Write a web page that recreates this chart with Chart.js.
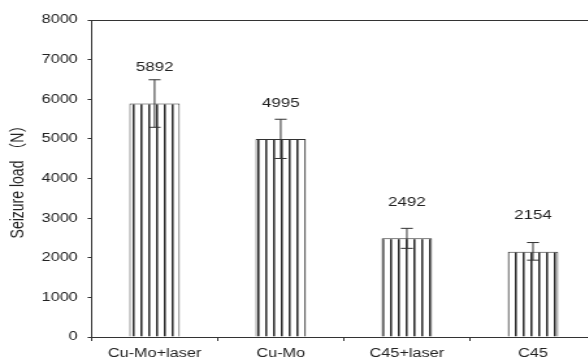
<!DOCTYPE html>
<html>
<head>
<meta charset="utf-8">
<script src="https://cdn.jsdelivr.net/npm/chart.js@4/dist/chart.umd.min.js"></script>
<style>
  html, body { margin: 0; padding: 0; background: #fff; }
  body { width: 588px; height: 362px; overflow: hidden; }
  #wrap { width: 460px; height: 362px; transform: scaleX(1.3); transform-origin: 0 0; }
  canvas { display: block; }
</style>
</head>
<body>
<div id="wrap"><canvas id="c" width="460" height="362"></canvas></div>
<script>
// Seizure load of the four samples, with error bar extents
const categories = ['Cu-Mo+laser', 'Cu-Mo', 'C45+laser', 'C45'];
const seizureLoad = [5892, 4995, 2492, 2154];
const errorUp = [600, 500, 250, 230];
const errorDown = [600, 490, 255, 215];
const yTicks = [0, 1000, 2000, 3000, 4000, 5000, 6000, 7000, 8000];
const yTitle = 'Seizure load （N）';

const FONT = "'Liberation Sans', Arial, 'Noto Sans CJK SC', sans-serif";
const INK = '#333333';
const TEXT = '#222222';

// vertical hatch fill for the bars
function stripePattern() {
  const p = document.createElement('canvas');
  p.width = 6; p.height = 4;
  const g = p.getContext('2d');
  g.fillStyle = '#ffffff';
  g.fillRect(0, 0, 6, 4);
  g.fillStyle = '#2e2e2e';
  g.fillRect(0, 0, 1, 4);
  g.fillStyle = '#8a8a8a';
  g.fillRect(1, 0, 1, 4);
  return g.createPattern(p, 'repeat');
}

const errorBars = {
  id: 'errorBars',
  afterDatasetsDraw(chart) {
    const meta = chart.getDatasetMeta(0);
    const ys = chart.scales.y;
    const ctx = chart.ctx;
    ctx.save();
    ctx.strokeStyle = INK;
    ctx.lineWidth = 1;
    meta.data.forEach((bar, i) => {
      const v = seizureLoad[i];
      const top = ys.getPixelForValue(v + errorUp[i]);
      const bot = ys.getPixelForValue(v - errorDown[i]);
      const x = bar.x, hw = 4.6;
      ctx.beginPath();
      ctx.moveTo(x, top); ctx.lineTo(x, bot);
      ctx.moveTo(x - hw, top); ctx.lineTo(x + hw, top);
      ctx.moveTo(x - hw, bot); ctx.lineTo(x + hw, bot);
      ctx.stroke();
    });
    ctx.restore();
  }
};

const valueLabels = {
  id: 'valueLabels',
  afterDatasetsDraw(chart) {
    const meta = chart.getDatasetMeta(0);
    const ctx = chart.ctx;
    ctx.save();
    ctx.font = '13px ' + FONT;
    ctx.fillStyle = TEXT;
    ctx.textAlign = 'center';
    ctx.textBaseline = 'middle';
    meta.data.forEach((bar, i) => {
      ctx.fillText(String(seizureLoad[i]), bar.x, bar.y - 36);
    });
    ctx.restore();
  }
};

const topBorder = {
  id: 'topBorder',
  afterDraw(chart) {
    const a = chart.chartArea;
    const ctx = chart.ctx;
    ctx.save();
    ctx.strokeStyle = INK;
    ctx.lineWidth = 1;
    ctx.beginPath();
    ctx.moveTo(a.left, a.top + 0.5);
    ctx.lineTo(a.right + 10, a.top + 0.5);
    ctx.stroke();
    ctx.restore();
  }
};

new Chart(document.getElementById('c'), {
  type: 'bar',
  data: {
    labels: categories,
    datasets: [{
      data: seizureLoad,
      backgroundColor: stripePattern(),
      borderColor: INK,
      borderWidth: 1,
      barPercentage: 0.4,
      categoryPercentage: 1.0
    }]
  },
  options: {
    responsive: false,
    devicePixelRatio: 1,
    animation: false,
    layout: { padding: { top: 20, right: 1.5, left: 0, bottom: 0 } },
    plugins: { legend: { display: false }, tooltip: { enabled: false } },
    scales: {
      x: {
        afterFit(s) { s.height = 25; },
        grid: { offset: true, drawOnChartArea: false, tickLength: 4, color: INK },
        border: { display: true, color: INK, width: 1 },
        ticks: { color: TEXT, font: { family: FONT, size: 12.5 }, padding: 5 }
      },
      y: {
        min: 0, max: 8000,
        afterFit(s) { s.width = 70.4; },
        afterBuildTicks(s) { s.ticks = yTicks.map(v => ({ value: v })); },
        grid: { drawOnChartArea: false, tickLength: 3, color: INK },
        border: { display: true, color: INK, width: 1 },
        ticks: {
          color: TEXT, font: { family: FONT, size: 12.5 }, padding: 7.6,
          callback: v => String(v)
        },
        title: {
          display: true, text: yTitle, color: TEXT,
          font: { family: FONT, size: 14 }, padding: { top: 6, bottom: 0 }
        }
      }
    }
  },
  plugins: [errorBars, valueLabels, topBorder]
});
</script>
</body>
</html>
